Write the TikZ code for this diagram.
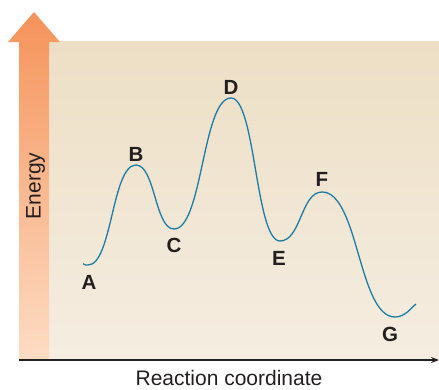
\documentclass[tikz,border=0pt]{standalone}
\usepackage{fontspec}
\setsansfont{Liberation Sans}
\usetikzlibrary{arrows.meta, positioning}
\definecolor{cpanelt}{HTML}{EDDFC5}
\definecolor{cpanelb}{HTML}{F5EDE1}
\definecolor{corange}{HTML}{F5935A}
\definecolor{cpeach}{HTML}{FDDCC3}
\definecolor{cblue}{HTML}{1B7DA8}
\definecolor{cink}{HTML}{231F20}
\tikzset{
  every picture/.style={font=\sffamily, line width=1.2pt},
  curve/.style={draw=cblue, line width=1.3pt},
  axis/.style={-{Stealth[length=8pt, width=6pt]}, draw=cink, line width=1.3pt},
  lbl/.style={font=\sffamily\bfseries\fontsize{20.5}{24}\selectfont, text=cink, inner sep=0pt, anchor=base},
  axlabel/.style={font=\sffamily\fontsize{21}{25}\selectfont, text=cink, inner sep=0pt, anchor=base},
}

\begin{document}
\begin{tikzpicture}[x=1pt, y=-1pt]
  \useasboundingbox (0,0) rectangle (439,389);
  % background panel and energy arrow
  \shade[top color=cpanelt, bottom color=cpanelb] (49,41) rectangle (439,360);
  \shade[top color=corange, bottom color=cpeach]
    (19,360) -- (19,42) -- (8,42) -- (34,12) -- (60,42) -- (49,42) -- (49,360) -- cycle;
  \node[axlabel, rotate=90] (energy) at (40.7,186) {Energy};
  % reaction coordinate axis
  \coordinate (orig) at (19,360);
  \coordinate (xend) at (439,360);
  \draw[axis] (orig) -- (xend);
  \node[axlabel] (rc) at (229,385.7) {Reaction coordinate};
  % minima and maxima of the profile
  \coordinate (p0) at (83,263.8);
  \coordinate (pA) at (88,265);
  \coordinate (pB) at (136,165);
  \coordinate (pC) at (174,229);
  \coordinate (pD) at (231,98);
  \coordinate (pE) at (280,241);
  \coordinate (pF) at (322,192);
  \coordinate (pG) at (395,317);
  \coordinate (p1) at (416,304);
  \draw[curve] (p0) .. controls (85,265.2) and (86.5,265) .. (pA)
    .. controls (112,265) and (112,165) .. (pB)
    .. controls (155,165) and (155,229) .. (pC)
    .. controls (202.5,229) and (202.5,98) .. (pD)
    .. controls (255.5,98) and (255.5,241) .. (pE)
    .. controls (301,241) and (301,192) .. (pF)
    .. controls (358.5,192) and (358.5,317) .. (pG)
    .. controls (405,317) and (411,308) .. (p1);
  \foreach \name/\x/\y in {A/89/289, B/136/161, C/174/252, D/231/94, E/279/265, F/322/186, G/390/341}
    \node[lbl] (\name) at (\x,\y) {\name};
\end{tikzpicture}
\end{document}
